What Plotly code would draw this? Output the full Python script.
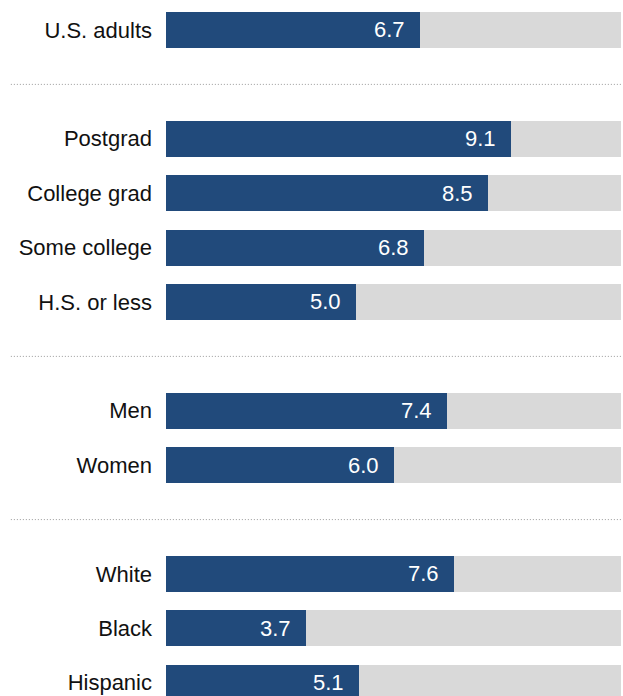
import plotly.graph_objects as go

categories = ["U.S. adults", "Postgrad", "College grad", "Some college", "H.S. or less",
              "Men", "Women", "White", "Black", "Hispanic"]
values = [6.7, 9.1, 8.5, 6.8, 5.0, 7.4, 6.0, 7.6, 3.7, 5.1]
groups = [0, 1, 1, 1, 1, 2, 2, 3, 3, 3]
scale_max = 12

# slot positions: one empty slot between groups
slots = []
s = 0
prev = groups[0]
for g in groups:
    if g != prev:
        s += 1
        prev = g
    slots.append(s)
    s += 1

BLUE = "#214a7b"
GRAY = "#d9d9d9"
FONT = "Liberation Sans, Arial, sans-serif"

fig = go.Figure()
fig.add_trace(go.Bar(y=slots, x=[scale_max] * len(slots), orientation="h",
                     marker=dict(color=GRAY, line=dict(width=0)), width=0.662,
                     hoverinfo="skip", showlegend=False))
fig.add_trace(go.Bar(y=slots, x=values, orientation="h",
                     marker=dict(color=BLUE, line=dict(width=0)), width=0.662,
                     showlegend=False))

for yv, v in zip(slots, values):
    fig.add_annotation(x=v, y=yv, xref="x", yref="y", text=f"{v:.1f}",
                       showarrow=False, xanchor="right", yanchor="middle",
                       xshift=-13, font=dict(color="white", size=22, family=FONT))

# dotted separators between groups
for i in range(1, len(slots)):
    if groups[i] != groups[i - 1]:
        ysep = (slots[i] + slots[i - 1]) / 2
        fig.add_shape(type="line", xref="paper", yref="y", x0=-0.341, x1=1.0,
                      y0=ysep, y1=ysep, line=dict(color="#9a9a9a", width=1, dash="1px,2px"))

fig.update_layout(
    width=623, height=696,
    margin=dict(l=166, r=2, t=0, b=0),
    paper_bgcolor="white", plot_bgcolor="white",
    barmode="overlay", bargap=0,
    font=dict(family=FONT, size=22, color="#111111"),
    xaxis=dict(range=[0, scale_max], visible=False, fixedrange=True),
    yaxis=dict(range=[12.243, -0.551], tickvals=slots, ticktext=categories,
               showgrid=False, zeroline=False, showline=False, ticks="",
               ticklabelstandoff=13, tickfont=dict(size=22, family=FONT, color="#111111")),
)

post = ("document.body.style.margin='0';document.body.style.overflow='hidden';"
        "var gd=document.getElementById('{plot_id}');Plotly.Plots.resize(gd);")
fig.write_html("out.html", post_script=post,
               config={"responsive": False, "displayModeBar": False})
